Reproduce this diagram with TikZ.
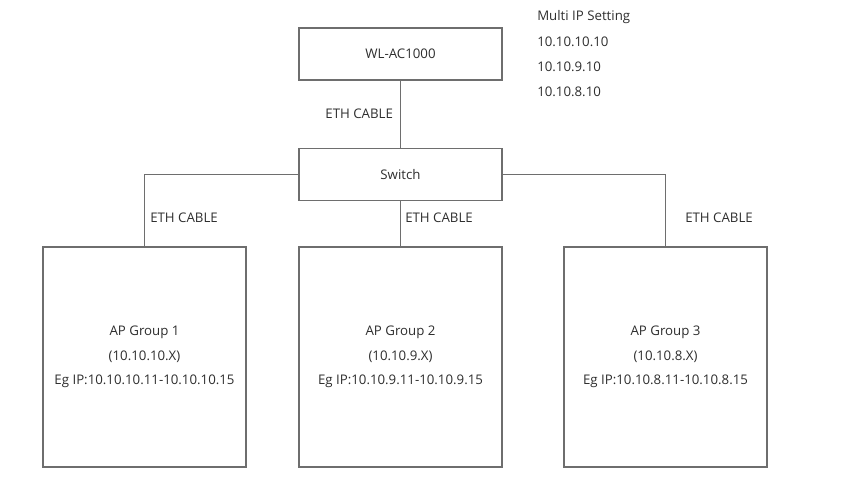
\documentclass[tikz,border=0pt]{standalone}
\usepackage{fontspec}
\setmainfont{Open Sans}
\usepackage{xcolor}
\usetikzlibrary{positioning}
\definecolor{lgray}{HTML}{6E6E6E}
\definecolor{tgray}{HTML}{2E2E2E}

\begin{document}
\begin{tikzpicture}[
      x=0.0265cm,y=-0.0265cm,
      box/.style={rectangle,draw=lgray,line width=1.4pt,fill=white,
                  minimum width=203*0.0265cm,minimum height=52*0.0265cm,
                  inner sep=0pt,text=tgray,align=center},
      apbox/.style={box,minimum height=220*0.0265cm},
      wire/.style={draw=lgray,line width=1.4pt},
      lbl/.style={text=tgray,inner sep=0pt},
      font=\fontsize{10}{12}\selectfont
    ]

    \useasboundingbox (0,0) rectangle (849,478);

    % controller
    \node[box] (ac) at (400.5,54) {WL-AC1000};

    % multi ip text
    \node[lbl,anchor=west] (ip0) at (537,17) {Multi IP Setting};
    \node[lbl,anchor=west] (ip1) at (537,42) {10.10.10.10};
    \node[lbl,anchor=west] (ip2) at (537,67) {10.10.9.10};
    \node[lbl,anchor=west] (ip3) at (537,92) {10.10.8.10};

    % switch
    \node[box] (sw) at (400.5,174.5) {Switch};

    % ap groups
    \node[apbox] (ap1) at (144.5,357) {AP Group 1\\[6.4pt](10.10.10.X)\\[6.4pt]Eg IP:10.10.10.11-10.10.10.15};
    \node[apbox] (ap2) at (400.5,357) {AP Group 2\\[6.4pt](10.10.9.X)\\[6.4pt]Eg IP:10.10.9.11-10.10.9.15};
    \node[apbox] (ap3) at (665.5,357) {AP Group 3\\[6.4pt](10.10.8.X)\\[6.4pt]Eg IP:10.10.8.11-10.10.8.15};

    % cables
    \draw[wire] (ac) -- node[lbl,left=5pt]{ETH CABLE} (sw);
    \draw[wire] (sw.west) -| (ap1.north);
    \draw[wire] (sw) -- (ap2);
    \draw[wire] (sw.east) -| (ap3.north);

    % cable labels
    \node[lbl,anchor=west] (c1) at (150,218) {ETH CABLE};
    \node[lbl,anchor=west] (c2) at (405,218) {ETH CABLE};
    \node[lbl,anchor=west] (c3) at (685,218) {ETH CABLE};

  \end{tikzpicture}
\end{document}
